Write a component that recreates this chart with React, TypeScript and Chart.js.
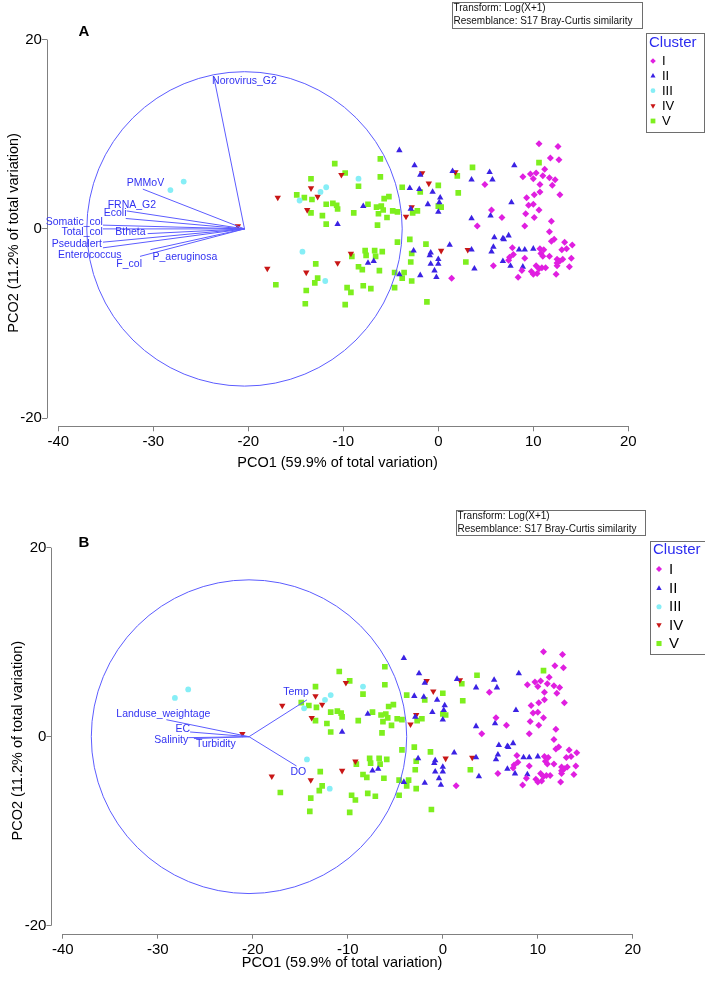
import React, { useEffect, useRef } from "react";
import { Chart, registerables } from "chart.js";

Chart.register(...registerables);

type Pt = [number, number];

// ---------------- data ----------------
const clusterLabels = ["I", "II", "III", "IV", "V"];

const clusterI: Pt[] = [
  [10.6, 9.0], [12.6, 8.7], [11.8, 7.5], [12.7, 7.3], [11.2, 6.3], [8.9, 5.5], [9.7, 5.8], [10.3, 5.9],
  [10.0, 5.3], [11.0, 5.6], [11.7, 5.4], [12.3, 5.2], [4.9, 4.7], [10.7, 4.7], [12.0, 4.6], [10.7, 3.9],
  [10.1, 3.6], [9.3, 3.3], [12.8, 3.6], [10.0, 2.6], [9.5, 2.5], [5.6, 2.0], [10.6, 2.0], [9.2, 1.6],
  [10.1, 1.2], [6.7, 1.2], [11.9, 0.8], [4.1, 0.3], [9.1, 0.3], [11.7, -0.3], [11.9, -1.3], [12.2, -1.1],
  [13.3, -1.4], [14.1, -1.7], [7.8, -2.0], [10.7, -2.1], [11.1, -2.2], [10.8, -2.6], [11.0, -2.9], [13.0, -2.2],
  [13.5, -2.1], [7.9, -2.7], [7.5, -3.0], [7.4, -3.3], [9.1, -3.1], [11.7, -2.9], [12.5, -3.2], [13.1, -3.2],
  [14.0, -3.1], [12.5, -3.6], [12.8, -3.4], [5.8, -3.9], [8.8, -4.4], [10.3, -3.9], [10.6, -4.2], [10.9, -4.1],
  [11.3, -4.1], [9.8, -4.5], [10.0, -4.8], [10.4, -4.7], [12.5, -3.9], [13.8, -4.0], [12.4, -4.8], [8.4, -5.1],
  [1.4, -5.2],
];

const clusterII: Pt[] = [
  [-4.1, 8.3], [-2.5, 6.7], [-1.9, 5.7], [1.5, 6.1], [-3.0, 4.3], [-2.0, 4.2], [-0.6, 3.9], [0.2, 3.3],
  [-7.9, 2.4], [-1.1, 2.6], [0.1, 2.8], [-2.9, 2.1], [0.0, 1.8], [-10.6, 0.5], [1.2, -1.7], [-2.6, -2.3],
  [-0.8, -2.5], [-0.9, -2.8], [0.0, -3.2], [-7.4, -3.6], [-6.8, -3.4], [-0.8, -3.7], [0.0, -3.7], [-0.4, -4.4],
  [-4.1, -4.8], [-1.9, -4.9], [-0.2, -5.1], [8.0, 6.7], [5.4, 6.0], [5.7, 5.2], [3.5, 5.2], [7.7, 2.8],
  [5.5, 1.4], [3.5, 1.1], [5.9, -0.9], [6.8, -1.0], [7.4, -0.7], [6.9, -1.1], [5.8, -1.9], [3.5, -2.2],
  [5.6, -2.4], [8.5, -2.2], [9.1, -2.2], [10.0, -2.1], [6.8, -3.4], [7.6, -3.9], [8.9, -4.0], [3.8, -4.2],
];

const clusterIII: Pt[] = [
  [-28.2, 4.1], [-26.8, 5.0], [-8.4, 5.3], [-11.8, 4.4], [-12.4, 3.9], [-14.6, 3.0], [-14.3, -2.4], [-11.9, -5.5],
];

const clusterIV: Pt[] = [
  [-21.1, 0.3], [-16.9, 3.3], [-13.4, 4.3], [-12.7, 3.4], [-13.8, 2.0], [-10.2, 5.7], [-18.0, -4.2], [-13.9, -4.6],
  [-10.6, -3.6], [-9.2, -2.6], [-1.7, 5.9], [1.8, 6.0], [-1.0, 4.8], [-2.8, 2.3], [-3.4, 1.3], [0.3, -2.3],
  [3.1, -2.2],
];

const clusterV: Pt[] = [
  [-10.9, 6.9], [-9.8, 5.9], [-13.4, 5.3], [-8.4, 4.5], [-14.9, 3.6], [-14.1, 3.3], [-13.3, 3.1], [-11.8, 2.6],
  [-11.1, 2.7], [-10.7, 2.5], [-10.6, 2.1], [-7.4, 2.6], [-6.5, 2.3], [-13.4, 1.7], [-12.2, 1.4], [-8.9, 1.7],
  [-6.3, 1.6], [-11.8, 0.5], [-6.4, 0.4], [-6.1, 7.4], [-6.1, 5.5], [-3.8, 4.4], [0.0, 4.6], [-1.9, 3.9],
  [2.0, 5.6], [2.1, 3.8], [-5.7, 3.2], [-5.2, 3.4], [-6.0, 2.4], [-5.8, 2.0], [0.0, 2.4], [0.3, 2.3],
  [-2.2, 1.9], [-2.7, 1.7], [-4.8, 1.9], [-4.3, 1.8], [-5.4, 1.2], [-4.3, -1.4], [-3.0, -1.1], [-1.3, -1.6],
  [-2.8, -2.6], [2.9, -3.5], [-7.7, -2.3], [-6.7, -2.3], [-7.6, -2.8], [-6.6, -2.9], [-5.9, -2.4], [-2.9, -3.5],
  [-6.2, -4.4], [-8.0, -4.3], [-4.6, -4.6], [-3.6, -4.6], [-3.8, -5.2], [-2.8, -5.5], [-7.9, -6.0], [-7.1, -6.3],
  [-4.6, -6.2], [-1.2, -7.7], [-9.1, -2.9], [-8.4, -4.0], [-12.9, -3.7], [-12.7, -5.2], [-13.0, -5.7], [-17.1, -5.9],
  [-13.9, -6.5], [-9.6, -6.2], [-9.2, -6.7], [-14.0, -7.9], [-9.8, -8.0], [3.6, 6.5], [10.6, 7.0],
];

const vectorOrigin: Pt = [-20.4, 0];
const circleRadius = 16.6;

const bioVectorNames = [
  "Norovirus_G2", "PMMoV", "FRNA_G2", "Ecoli", "Somatic_col", "Total_col",
  "Btheta", "Pseudalert", "Enterococcus", "F_col", "P_aeruginosa",
];
const bioVectorX = [-23.6, -31.1, -32.8, -32.9, -35.3, -35.3, -30.6, -35.3, -35.3, -31.4, -30.3];
const bioVectorY = [15.9, 4.2, 1.9, 1.1, 0.4, 0.0, -0.5, -1.4, -2.0, -2.9, -2.2];

const envVectorNames = ["Landuse_weightage", "EC", "Salinity", "Turbidity", "Temp", "DO"];
const envVectorX = [-29.1, -26.6, -26.8, -26.2, -14.3, -15.4];
const envVectorY = [1.8, 0.5, -0.1, -0.2, 3.9, -3.1];

const xTickValues = [-40, -30, -20, -10, 0, 10, 20];
const yTickValues = [-20, 0, 20];
const xAxisTitle = "PCO1 (59.9% of total variation)";
const yAxisTitle = "PCO2 (11.2% of total variation)";
const infoLines = ["Transform: Log(X+1)", "Resemblance: S17 Bray-Curtis similarity"];
const legendTitle = "Cluster";

// ---------------- styles ----------------
const FONT = '"Liberation Sans", Arial, Helvetica, sans-serif';
const clusterColors = ["#e01fe0", "#3b22e4", "#86eef6", "#c81616", "#7eef1e"];
const clusterStyles = ["rectRot", "triangle", "circle", "triangle", "rect"];
const clusterRotation = [0, 0, 0, 180, 0];
const clusterRadius = [3.5, 3.7, 2.9, 3.7, 4.0];
const vectorColor = "#5c5cff";
const vectorTextColor = "#3232f2";
const axisColor = "#808080";

type Align = "left" | "right";

interface PanelCfg {
  letter: string;
  height: number;
  names: string[];
  vx: number[];
  vy: number[];
  labelPlace: [number, number, Align][];
  area: { left: number; right: number; top: number; bottom: number };
  gapX: number;
  gapY: number;
  xTitlePad: number;
  yTitlePad: number;
  letterPos: Pt;
  info: { x: number; y: number; w: number; h: number; l1: number; l2: number };
  legend: {
    x: number; y: number; w: number; h: number; titleX: number; titleY: number; titleSize: number;
    rows: number[]; markerX: number; textX: number; size: number; markerR: number;
  };
}

const panelA: PanelCfg = {
  letter: "A",
  height: 492,
  names: bioVectorNames,
  vx: bioVectorX,
  vy: bioVectorY,
  labelPlace: [
    [-2, 3, "left"], [-16, -6, "left"], [-19, -6, "left"], [-22, -5, "left"], [0, -3, "right"],
    [0, 3, "right"], [-2, -2, "right"], [-1, 2, "right"], [-45, 7, "left"], [2, 8, "right"], [2, 7, "left"],
  ],
  area: { left: 46.9, right: 628.3, top: 39.5, bottom: 426.3 },
  gapX: 11.4,
  gapY: 8,
  xTitlePad: 20,
  yTitlePad: 5,
  letterPos: [84, 32],
  info: { x: 451.5, y: 1.5, w: 190, h: 26, l1: 8, l2: 21 },
  legend: {
    x: 645.5, y: 32.5, w: 58, h: 99, titleX: 649, titleY: 43, titleSize: 15,
    rows: [61, 75.7, 90.7, 106, 121], markerX: 653, textX: 662, size: 13, markerR: 2.8,
  },
};

const panelB: PanelCfg = {
  letter: "B",
  height: 492,
  names: envVectorNames,
  vx: envVectorX,
  vy: envVectorY,
  labelPlace: [
    [-50, -6, "left"], [0, -3, "right"], [0, 2.5, "right"], [2, 6, "left"], [2, -8, "right"], [-6, 6, "left"],
  ],
  area: { left: 51.4, right: 632.8, top: 55.7, bottom: 441.7 },
  gapX: 11.4,
  gapY: 8,
  xTitlePad: 12,
  yTitlePad: 9,
  letterPos: [84, 51],
  info: { x: 455.5, y: 17.5, w: 188.5, h: 25, l1: 24, l2: 37 },
  legend: {
    x: 649.5, y: 48.5, w: 55, h: 113, titleX: 653, titleY: 58, titleSize: 15,
    rows: [77, 96.3, 114.7, 133, 151.5], markerX: 659, textX: 669, size: 15, markerR: 3,
  },
};

function drawMarker(ctx: CanvasRenderingContext2D, i: number, x: number, y: number, r: number) {
  ctx.fillStyle = clusterColors[i];
  ctx.beginPath();
  if (i === 0) {
    ctx.moveTo(x, y - r); ctx.lineTo(x + r, y); ctx.lineTo(x, y + r); ctx.lineTo(x - r, y);
  } else if (i === 1) {
    ctx.moveTo(x, y - r); ctx.lineTo(x + r * 0.9, y + r * 0.6); ctx.lineTo(x - r * 0.9, y + r * 0.6);
  } else if (i === 2) {
    ctx.arc(x, y, r * 0.85, 0, Math.PI * 2);
  } else if (i === 3) {
    ctx.moveTo(x, y + r); ctx.lineTo(x + r * 0.9, y - r * 0.6); ctx.lineTo(x - r * 0.9, y - r * 0.6);
  } else {
    ctx.rect(x - r * 0.85, y - r * 0.85, r * 1.7, r * 1.7);
  }
  ctx.closePath();
  ctx.fill();
}

function makePlugin(cfg: PanelCfg) {
  return {
    id: "pcoOverlay" + cfg.letter,
    beforeDatasetsDraw(chart: any) {
      const ctx: CanvasRenderingContext2D = chart.ctx;
      const xs = chart.scales.x;
      const ys = chart.scales.y;
      const ca = chart.chartArea;
      ctx.save();
      ctx.strokeStyle = axisColor;
      ctx.lineWidth = 1;
      ctx.beginPath();
      const lx = Math.round(ca.left) + 0.5;
      ctx.moveTo(lx, ys.getPixelForValue(yTickValues[yTickValues.length - 1]));
      ctx.lineTo(lx, ys.getPixelForValue(yTickValues[0]));
      const by = Math.round(ca.bottom) + 0.5;
      ctx.moveTo(xs.getPixelForValue(xTickValues[0]), by);
      ctx.lineTo(xs.getPixelForValue(xTickValues[xTickValues.length - 1]), by);
      ctx.stroke();
      ctx.restore();
    },
    afterDatasetsDraw(chart: any) {
      const ctx: CanvasRenderingContext2D = chart.ctx;
      const xs = chart.scales.x;
      const ys = chart.scales.y;
      const ox = xs.getPixelForValue(vectorOrigin[0]);
      const oy = ys.getPixelForValue(vectorOrigin[1]);
      const rx = xs.getPixelForValue(vectorOrigin[0] + circleRadius) - ox;
      const ry = oy - ys.getPixelForValue(vectorOrigin[1] + circleRadius);
      ctx.save();
      ctx.strokeStyle = vectorColor;
      ctx.lineWidth = 1;
      ctx.beginPath();
      ctx.ellipse(ox, oy, rx, ry, 0, 0, Math.PI * 2);
      ctx.stroke();
      ctx.font = `10.5px ${FONT}`;
      ctx.textBaseline = "middle";
      cfg.names.forEach((name, i) => {
        const ex = xs.getPixelForValue(cfg.vx[i]);
        const ey = ys.getPixelForValue(cfg.vy[i]);
        ctx.beginPath();
        ctx.moveTo(ox, oy);
        ctx.lineTo(ex, ey);
        ctx.strokeStyle = vectorColor;
        ctx.stroke();
        const [dx, dy, al] = cfg.labelPlace[i];
        ctx.fillStyle = vectorTextColor;
        ctx.textAlign = al;
        ctx.fillText(name, ex + dx, ey + dy);
      });
      ctx.restore();
    },
    afterDraw(chart: any) {
      const ctx: CanvasRenderingContext2D = chart.ctx;
      ctx.save();
      // panel letter
      ctx.fillStyle = "#000";
      ctx.font = `bold 15px ${FONT}`;
      ctx.textAlign = "center";
      ctx.textBaseline = "middle";
      ctx.fillText(cfg.letter, cfg.letterPos[0], cfg.letterPos[1]);
      // info box
      const ib = cfg.info;
      ctx.strokeStyle = "#6e6e6e";
      ctx.lineWidth = 1;
      ctx.strokeRect(Math.round(ib.x) + 0.5, Math.round(ib.y) + 0.5, Math.round(ib.w), Math.round(ib.h));
      ctx.font = `10px ${FONT}`;
      ctx.textAlign = "left";
      ctx.fillStyle = "#111";
      ctx.fillText(infoLines[0], ib.x + 2, ib.l1);
      ctx.fillText(infoLines[1], ib.x + 2, ib.l2);
      // legend
      const lg = cfg.legend;
      ctx.strokeStyle = "#6e6e6e";
      ctx.strokeRect(Math.round(lg.x) + 0.5, Math.round(lg.y) + 0.5, Math.round(lg.w), Math.round(lg.h));
      ctx.fillStyle = "#2b2bf0";
      ctx.font = `${lg.titleSize}px ${FONT}`;
      ctx.fillText(legendTitle, lg.titleX, lg.titleY);
      ctx.font = `${lg.size}px ${FONT}`;
      clusterLabels.forEach((lab, i) => {
        drawMarker(ctx, i, lg.markerX, lg.rows[i], lg.markerR);
        ctx.fillStyle = "#000";
        ctx.fillText(lab, lg.textX, lg.rows[i] + 0.5);
      });
      ctx.restore();
    },
  };
}

function buildConfig(cfg: PanelCfg): any {
  const clusters = [clusterI, clusterII, clusterIII, clusterIV, clusterV];
  const a = cfg.area;
  const xSpan = xTickValues[xTickValues.length - 1] - xTickValues[0];
  const ySpan = yTickValues[yTickValues.length - 1] - yTickValues[0];
  const xMin = xTickValues[0] - (cfg.gapX * xSpan) / (a.right - a.left - cfg.gapX);
  const yMin = yTickValues[0] - (cfg.gapY * ySpan) / (a.bottom - a.top - cfg.gapY);
  const tickFont = { family: FONT, size: 15 };
  const titleFont = { family: FONT, size: 14.5 };
  return {
    type: "scatter",
    data: {
      datasets: clusters.map((c, i) => ({
        label: clusterLabels[i],
        data: c.map(([x, y]) => ({ x, y })),
        pointStyle: clusterStyles[i],
        pointRotation: clusterRotation[i],
        pointRadius: clusterRadius[i],
        pointHoverRadius: clusterRadius[i],
        pointBackgroundColor: clusterColors[i],
        pointBorderColor: clusterColors[i],
        pointBorderWidth: 0,
        backgroundColor: clusterColors[i],
        borderColor: clusterColors[i],
      })),
    },
    options: {
      responsive: false,
      animation: false,
      devicePixelRatio: 1,
      events: [],
      layout: { padding: { left: 0, top: a.top, right: 705 - a.right, bottom: 0 } },
      plugins: { legend: { display: false }, tooltip: { enabled: false }, title: { display: false } },
      scales: {
        x: {
          type: "linear",
          position: "bottom",
          min: xMin,
          max: xTickValues[xTickValues.length - 1],
          afterBuildTicks: (s: any) => {
            s.ticks = xTickValues.map((v) => ({ value: v }));
          },
          afterFit: (s: any) => {
            s.height = cfg.height - a.bottom;
          },
          ticks: { font: tickFont, color: "#000", padding: 2, maxRotation: 0, autoSkip: false },
          grid: { display: true, drawOnChartArea: false, drawTicks: true, tickLength: 5, color: axisColor },
          border: { display: false },
          title: {
            display: true,
            text: xAxisTitle,
            font: titleFont,
            color: "#000",
            padding: { top: 0, bottom: cfg.xTitlePad },
          },
        },
        y: {
          type: "linear",
          position: "left",
          min: yMin,
          max: yTickValues[yTickValues.length - 1],
          afterBuildTicks: (s: any) => {
            s.ticks = yTickValues.map((v) => ({ value: v }));
          },
          afterFit: (s: any) => {
            s.width = a.left;
          },
          ticks: { font: tickFont, color: "#000", padding: 0, autoSkip: false },
          grid: { display: true, drawOnChartArea: false, drawTicks: true, tickLength: 5, color: axisColor },
          border: { display: false },
          title: {
            display: true,
            text: yAxisTitle,
            font: titleFont,
            color: "#000",
            padding: { top: cfg.yTitlePad, bottom: 0 },
          },
        },
      },
    },
    plugins: [makePlugin(cfg)],
  };
}

function Panel({ cfg }: { cfg: PanelCfg }) {
  const ref = useRef<HTMLCanvasElement>(null);
  useEffect(() => {
    if (!ref.current) return;
    const chart = new Chart(ref.current, buildConfig(cfg));
    return () => chart.destroy();
  }, [cfg]);
  return (
    <canvas
      ref={ref}
      width={705}
      height={cfg.height}
      style={{ display: "block", width: 705, height: cfg.height }}
    />
  );
}

export default function App() {
  return (
    <div style={{ position: "absolute", left: 0, top: 0, width: 705, height: 984, background: "#fff" }}>
      <Panel cfg={panelA} />
      <Panel cfg={panelB} />
    </div>
  );
}
